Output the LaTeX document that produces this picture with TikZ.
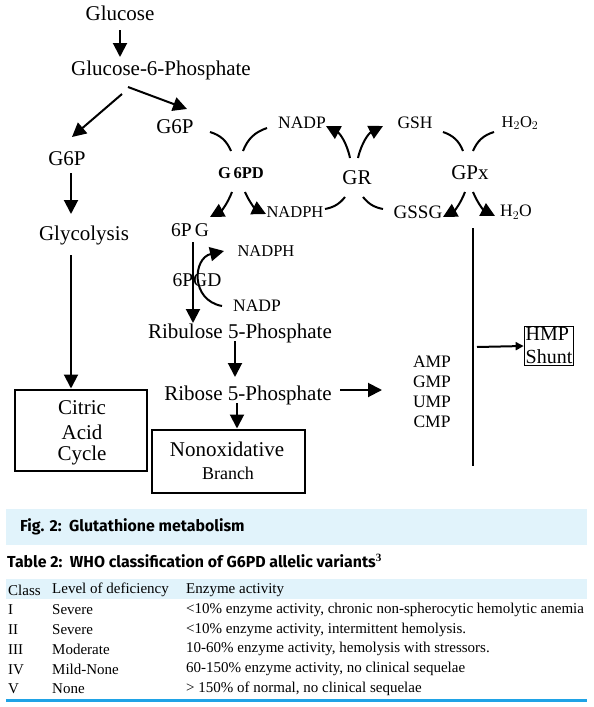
\documentclass[tikz,border=0pt]{standalone}
\usepackage{fontspec}
\setmainfont{Liberation Serif}
\newfontfamily\capfont{Fira Sans}
\usetikzlibrary{arrows.meta,positioning}
\definecolor{capblue}{HTML}{E1F3FB}
\definecolor{ruleblue}{HTML}{1FA3E6}
\tikzset{%
  arrow/.style={line width=2pt,-{Triangle[length=14pt,width=14pt]}},
  curve/.style={line width=2pt},
  lbl/.style={font=\fontsize{21}{24}\selectfont,inner sep=1pt},
  sml/.style={font=\fontsize{17.5}{20}\selectfont,inner sep=1pt},
  box/.style={draw,line width=2pt},
  row/.style={font=\fontsize{15}{17}\selectfont,anchor=west,inner sep=0pt},
  title/.style={font=\capfont\fontsize{15.9}{18}\selectfont\bfseries,anchor=west,inner sep=0pt},
}
\begin{document}
\begin{tikzpicture}[x=1pt,y=-1pt]
  \useasboundingbox (0,0) rectangle (594,707);

  % upper part of the pathway
  \node[lbl] (glc) at (120,13) {Glucose};
  \node[lbl] (g6phos) at (161,70) {Glucose-6-Phosphate};
  \node[lbl] (g6pl) at (67,159) {G6P};
  \node[lbl] (g6pr) at (175,127) {G6P};
  \node[lbl] (glyc) at (84,235) {Glycolysis};
  \node[font=\fontsize{16.5}{19}\selectfont\bfseries,inner sep=1pt] (g6pd) at (241,173) {G\,6PD};
  \node[sml] (nadpa) at (302,123) {NADP};
  \node[sml,font=\fontsize{16.5}{19}\selectfont] (nadpha) at (295,212) {NADPH};
  \node[lbl] (gr) at (357,178) {GR};
  \node[sml] (gsh) at (415,123) {GSH};
  \node[sml,font=\fontsize{16.5}{19}\selectfont] (hoo) at (520,123) {H$_2$O$_2$};
  \node[lbl] (gpx) at (470,173) {GPx};
  \node[sml,font=\fontsize{19}{22}\selectfont] (gssg) at (418,212) {GSSG};
  \node[sml] (ho) at (516,212) {H$_2$O};

  \coordinate (a1) at (120,30); \coordinate (a2) at (120,57);
  \draw[arrow] (a1) -- (a2);
  \coordinate (a3) at (122,94); \coordinate (a4) at (72,137);
  \draw[arrow] (a3) -- (a4);
  \coordinate (a5) at (128,87); \coordinate (a6) at (187,109);
  \draw[arrow] (a5) -- (a6);
  \coordinate (a7) at (71,173); \coordinate (a8) at (71,214);
  \draw[arrow] (a7) -- (a8);

  % G6PD
  \coordinate (d1) at (210,132); \coordinate (d2) at (231,151);
  \coordinate (d3) at (267,128); \coordinate (d4) at (243,151);
  \draw[curve] (d1) to[bend left=25] (d2);
  \draw[curve] (d3) to[bend right=25] (d4);
  \coordinate (d5) at (232,192); \coordinate (d6) at (210,217);
  \coordinate (d7) at (245,192); \coordinate (d8) at (266,214);
  \draw[arrow] (d5) to[bend left=20] (d6);
  \draw[arrow] (d7) to[bend right=20] (d8);

  % GR
  \coordinate (r1) at (350,158); \coordinate (r2) at (326,126);
  \coordinate (r3) at (358,158); \coordinate (r4) at (383,126);
  \draw[arrow] (r1) to[bend right=25] (r2);
  \draw[arrow] (r3) to[bend left=25] (r4);
  \coordinate (r5) at (345,197); \coordinate (r6) at (325,209);
  \coordinate (r7) at (363,197); \coordinate (r8) at (383,209);
  \draw[curve] (r5) to[bend left=20] (r6);
  \draw[curve] (r7) to[bend right=20] (r8);

  % GPx
  \coordinate (x1) at (443,132); \coordinate (x2) at (463,151);
  \coordinate (x3) at (494,132); \coordinate (x4) at (473,151);
  \draw[curve] (x1) to[bend left=25] (x2);
  \draw[curve] (x3) to[bend right=25] (x4);
  \coordinate (x5) at (465,192); \coordinate (x6) at (443,217);
  \coordinate (x7) at (473,192); \coordinate (x8) at (495,216);
  \draw[arrow] (x5) to[bend left=20] (x6);
  \draw[arrow] (x7) to[bend right=20] (x8);

  % 6PGD branch
  \node[sml,font=\fontsize{19.5}{22}\selectfont] (spg) at (190,230) {6P\,G};
  \node[sml,font=\fontsize{19.5}{22}\selectfont] (spgd) at (197,280) {6PGD};
  \node[sml,font=\fontsize{16.5}{19}\selectfont] (nadphb) at (266,251) {NADPH};
  \node[sml] (nadpb) at (257,306) {NADP};
  \node[lbl] (ribu) at (240,333) {Ribulose 5-Phosphate};
  \node[lbl] (ribo) at (248,395) {Ribose 5-Phosphate};
  \coordinate (p1) at (193,242); \coordinate (p2) at (193,323);
  \draw[arrow] (p1) -- (p2);
  \coordinate (p3) at (222,306); \coordinate (p4) at (224,251);
  \draw[arrow] (p3) .. controls (190,300) and (193,258) .. (p4);
  \coordinate (p5) at (235,341); \coordinate (p6) at (235,377);
  \draw[arrow] (p5) -- (p6);
  \coordinate (p7) at (340,390); \coordinate (p8) at (382,390);
  \draw[arrow] (p7) -- (p8);

  % boxes
  \node[box,minimum width=132pt,minimum height=81pt] (tca) at (81,430) {};
  \node[lbl] (tca1) at (82,408) {Citric};
  \node[lbl] (tca2) at (82,432) {Acid};
  \node[lbl] (tca3) at (82,455) {Cycle};
  \coordinate (c1) at (71,255);
  \draw[arrow] (c1) -- (tca.north -| c1);
  \node[box,minimum width=153pt,minimum height=63pt] (nonox) at (228,461) {};
  \node[lbl] (nonox1) at (227,449) {Nonoxidative};
  \node[lbl,font=\fontsize{18}{20}\selectfont] (nonox2) at (228,473) {Branch};
  \coordinate (c2) at (237,403);
  \draw[arrow] (c2) -- (nonox.north -| c2);

  % nucleotides and HMP shunt
  \foreach \nm [count=\i] in {AMP,GMP,UMP,CMP}
    \node[sml,font=\fontsize{17.5}{20}\selectfont] (n\i) at (432,{341.5+20*\i}) {\nm};
  \coordinate (v1) at (473,228); \coordinate (v2) at (473,466);
  \draw[line width=2pt] (v1) -- (v2);
  \node[draw,line width=1pt,align=left,inner sep=1.5pt,font=\fontsize{20}{23}\selectfont] (hmp) at (549,346) {HMP\\Shunt};
  \coordinate (v3) at (477,347);
  \draw[line width=2pt,-{Triangle[length=8pt,width=8pt]}] (v3) -- (hmp.west);

  % caption
  \fill[capblue] (6,509) rectangle (587,545);
  \node[title] (cap) at (20,527) {Fig. 2:\ \ Glutathione metabolism};
  \node[title] (tab) at (7,561) {Table 2:\ \ WHO classification of G6PD allelic variants$^{\mathbf 3}$};

  % table
  \fill[capblue] (6,579) rectangle (587,599);
  \node[row] (hc) at (8,590) {Class};
  \node[row] (hl) at (52,590) {Level of deficiency};
  \node[row] (he) at (186,590) {Enzyme activity};
  \foreach \cl/\lv/\en [count=\i] in {%
    I/Severe/{<10\% enzyme activity, chronic non-spherocytic hemolytic anemia},
    II/Severe/{<10\% enzyme activity, intermittent hemolysis.},
    III/Moderate/{10-60\% enzyme activity, hemolysis with stressors.},
    IV/Mild-None/{60-150\% enzyme activity, no clinical sequelae},
    V/None/{> 150\% of normal, no clinical sequelae}} {
    \node[row] (c\i) at (8,{590+19.8*\i}) {\cl};
    \node[row] (l\i) at (52,{590+19.8*\i}) {\lv};
    \node[row] (e\i) at (186,{590+19.8*\i}) {\en};
  }
  \fill[ruleblue] (6,699) rectangle (587,702);
\end{tikzpicture}
\end{document}
